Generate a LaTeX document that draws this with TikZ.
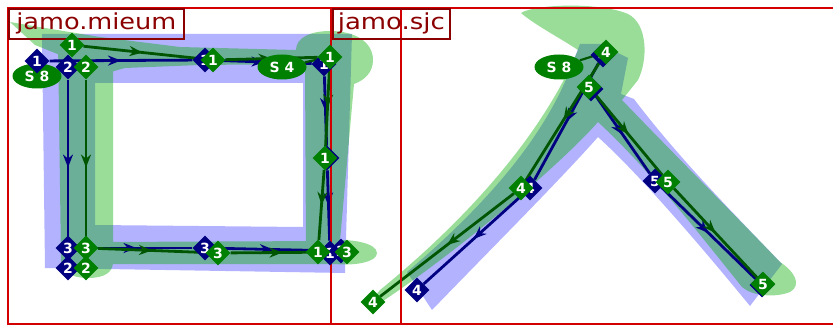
\documentclass[tikz,border=0pt]{standalone}
\usepackage{fontspec}
\setmainfont{DejaVu Sans}
\usetikzlibrary{shapes.geometric,decorations.markings,arrows.meta}
\definecolor{navypt}{RGB}{0,0,128}
\definecolor{greenpt}{RGB}{0,128,0}
\definecolor{greenln}{RGB}{0,85,0}
\definecolor{boxred}{RGB}{210,0,0}
\definecolor{lblred}{RGB}{139,0,0}
\definecolor{bluefill}{RGB}{0,0,255}
\definecolor{greenfill}{RGB}{0,170,0}
\pgfdeclarelayer{glyph}
\pgfdeclarelayer{edges}
\pgfdeclarelayer{frames}
\pgfsetlayers{glyph,edges,frames,main}
\begin{document}
\begin{tikzpicture}[x=1pt, y=-1pt,
  navyspot/.style={diamond, fill=navypt, text=white, inner sep=0pt, minimum size=25pt, font=\bfseries\fontsize{14}{14}\selectfont},
  greenspot/.style={navyspot, fill=greenpt},
  navyrun/.style={color=navypt, line width=2.8pt, postaction={decorate}, decoration={markings, mark=at position 0.5 with {\arrow{Stealth[length=13pt, width=10pt]}}}},
  greenrun/.style={navyrun, color=greenln},
  startbadge/.style={ellipse, fill=greenpt, text=white, minimum width=49pt, minimum height=25pt, inner sep=0pt, font=\bfseries\fontsize{14}{14}\selectfont},
  badgelink/.style={color=greenln, line width=2.2pt},
  glyphframe/.style={draw=boxred, line width=2.5pt},
  glyphname/.style={draw=lblred, line width=1.6pt, anchor=north west, minimum height=30pt, inner sep=0pt, text=lblred, font=\fontsize{22}{22}\selectfont}]
\useasboundingbox (0,0) rectangle (833,326);

% outlines of the two glyphs
\begin{pgfonlayer}{glyph}
  \fill[bluefill, fill opacity=0.3, even odd rule] (42,34) -- (352,34) -- (345,273) -- (45,268) -- cycle
    (95,83) -- (303,83) -- (303,227) -- (95,225) -- cycle;
  \fill[bluefill, fill opacity=0.3] (580,44) -- (600,44) -- (628,58) -- (621,94) -- (634,99)
    .. controls (680,160) and (740,220) .. (782,264) -- (750,306)
    .. controls (700,245) and (640,175) .. (598,137)
    .. controls (560,180) and (490,250) .. (432,310) -- (407,272)
    .. controls (480,210) and (545,140) .. (573,62) -- cycle;
  \fill[greenfill, fill opacity=0.4]
    (10,22) -- (45,28) -- (100,37) -- (180,47) -- (296,50) .. controls (296,38) and (310,31) .. (330,31)
      .. controls (355,31) and (373,42) .. (373,60) .. controls (373,72) and (365,80) .. (354,84)
      -- (339,252) -- (306,252) -- (305,64) -- (200,65) -- (125,68) -- (100,75) -- (60,55) -- (35,45) -- cycle
    (58,40) -- (95,45) -- (113,62) -- (113,262) .. controls (113,272) and (105,278) .. (88,278)
      .. controls (72,278) and (61,272) .. (61,260) -- cycle
    (100,242) -- (330,241) .. controls (350,238) and (377,243) .. (377,253)
      .. controls (377,262) and (355,266) .. (335,264) -- (100,264) -- cycle;
  \fill[greenfill, fill opacity=0.4]
    (521,13) .. controls (535,4) and (600,2) .. (628,14) .. controls (648,24) and (648,60) .. (638,80)
    -- (622,100) .. controls (670,150) and (730,210) .. (780,262)
    .. controls (795,272) and (802,285) .. (790,292) .. controls (775,298) and (752,296) .. (742,287)
    .. controls (700,235) and (650,170) .. (598,122)
    .. controls (560,165) and (460,250) .. (380,303) -- (366,307) -- (380,290)
    .. controls (460,225) and (540,140) .. (578,50)
    .. controls (560,38) and (535,25) .. cycle;
\end{pgfonlayer}

% glyph boxes and names
\begin{pgfonlayer}{frames}
  \draw[glyphframe] (8,8) rectangle (401,324);
  \draw[glyphframe] (331,8) rectangle (845,324);
\end{pgfonlayer}
\node[glyphname, minimum width=175pt] (mieumname) at (8,8) {\resizebox{160pt}{\height}{jamo.mieum}};
\node[glyphname, minimum width=117pt] (sjcname) at (332,8) {\resizebox{107pt}{\height}{jamo.sjc}};

% stroke start badges
\node[startbadge] (mieumeight) at (37,76) {S 8};
\node[startbadge] (mieumfour) at (282,67) {S 4};
\node[startbadge] (sjceight) at (559,67) {S 8};

% navy points
\node[navyspot] (n1a) at (37,61) {1};
\node[navyspot] (n1b) at (205,60) {1};
\node[navyspot] (n1c) at (324,64) {1};
\node[navyspot] (n1e) at (327,158) {1};
\node[navyspot] (n1d) at (330,253) {1};
\node[navyspot] (n2a) at (68,67) {2};
\node[navyspot] (n3a) at (68,248) {3};
\node[navyspot] (n2b) at (68,268) {2};
\node[navyspot] (n3b) at (205,248) {3};
\node[navyspot] (n3c) at (341,251) {3};
\node[navyspot] (n4a) at (603,55) {4};
\node[navyspot] (n5a) at (591,89) {5};
\node[navyspot] (n4b) at (530,188) {4};
\node[navyspot] (n4c) at (417,290) {4};
\node[navyspot] (n5b) at (655,181) {5};
\node[navyspot] (n5c) at (762,285) {5};

% green points
\node[greenspot] (g1a) at (72,45) {1};
\node[greenspot] (g1b) at (213,60) {1};
\node[greenspot] (g1c) at (330,57) {1};
\node[greenspot] (g1d) at (325,158) {1};
\node[greenspot] (g1e) at (318,252) {1};
\node[greenspot] (g2a) at (86,67) {2};
\node[greenspot] (g3a) at (86,248) {3};
\node[greenspot] (g2b) at (86,268) {2};
\node[greenspot] (g3b) at (218,253) {3};
\node[greenspot] (g3c) at (347,252) {3};
\node[greenspot] (g4a) at (606,52) {4};
\node[greenspot] (g5a) at (589,87) {5};
\node[greenspot] (g4b) at (521,188) {4};
\node[greenspot] (g4c) at (373,302) {4};
\node[greenspot] (g5b) at (668,182) {5};
\node[greenspot] (g5c) at (763,284) {5};

% stroke runs
\begin{pgfonlayer}{edges}
  \draw[navyrun] (n1a) -- (n1b);
  \draw[navyrun] (n1b) -- (n1c);
  \draw[navyrun] (n1c) -- (n1e);
  \draw[navyrun] (n1e) -- (n1d);
  \draw[navyrun] (n2a) -- (n2b);
  \draw[navyrun] (n3a) -- (n3b);
  \draw[navyrun] (n3b) -- (n3c);
  \draw[navyrun] (n4a) -- (n4b);
  \draw[navyrun] (n4b) -- (n4c);
  \draw[navyrun] (n5a) -- (n5b);
  \draw[navyrun] (n5b) -- (n5c);
  \draw[greenrun] (g1a) -- (g1b);
  \draw[greenrun] (g1b) -- (g1c);
  \draw[greenrun] (g1c) -- (g1d);
  \draw[greenrun] (g1d) -- (g1e);
  \draw[greenrun] (g2a) -- (g2b);
  \draw[greenrun] (g3a) -- (g3b);
  \draw[greenrun] (g3b) -- (g3c);
  \draw[greenrun] (g4a) -- (g4b);
  \draw[greenrun] (g4b) -- (g4c);
  \draw[greenrun] (g5a) -- (g5b);
  \draw[greenrun] (g5b) -- (g5c);
  \draw[badgelink] (mieumfour) -- (g1c);
  \draw[badgelink] (sjceight) -- (g4a);
\end{pgfonlayer}
\end{tikzpicture}
\end{document}
